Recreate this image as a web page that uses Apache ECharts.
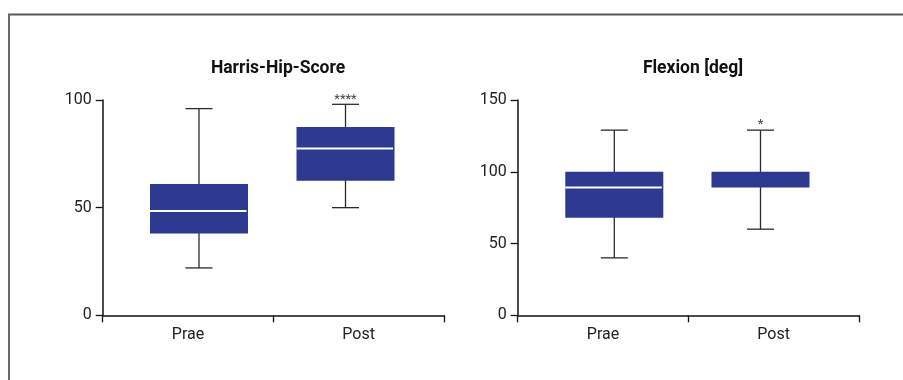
<!DOCTYPE html>
<html>
<head>
<meta charset="utf-8">
<script src="https://cdn.jsdelivr.net/npm/echarts@6/dist/echarts.min.js"></script>
<style>
html,body{margin:0;padding:0;background:#fff;}
#chart{width:903px;height:380px;}
</style>
</head>
<body>
<div id="chart"></div>
<script>
// ---- data ----
const categories = ['Prae', 'Post'];
// [min, q1, median, q3, max]
const hhsPrae = [22, 38, 48.5, 61, 96];
const hhsPost = [50, 62.5, 77.5, 87.5, 98];
const flexPrae = [40, 68, 89, 100, 129];
const flexPost = [60, 89, 100, 100, 129];
const hhsSig = ['', '****'];
const flexSig = ['', '*'];
const hhsTicks = [0, 50, 100];
const flexTicks = [0, 50, 100, 150];
const titles = ['Harris-Hip-Score', 'Flexion [deg]'];

const FONT = 'Roboto, "Noto Sans", sans-serif';
const BOX_COLOR = '#2d3890';
const LINE_COLOR = '#2b2b2b';

function toRows(a, b) {
  return [a, b].map((v, i) => [i].concat(v));
}

function makeRender(sig) {
  return function (params, api) {
    const i = api.value(0);
    const pMin = api.coord([i, api.value(1)]);
    const pQ1 = api.coord([i, api.value(2)]);
    const pMed = api.coord([i, api.value(3)]);
    const pQ3 = api.coord([i, api.value(4)]);
    const pMax = api.coord([i, api.value(5)]);
    const cx = pMin[0];
    const bw = 98, cw = 27;
    const children = [];
    const ls = { stroke: LINE_COLOR, lineWidth: 1.3 };
    children.push({ type: 'line', shape: { x1: cx, y1: pMax[1], x2: cx, y2: pMin[1] }, style: ls });
    children.push({ type: 'line', shape: { x1: cx - cw / 2, y1: pMax[1], x2: cx + cw / 2, y2: pMax[1] }, style: ls });
    children.push({ type: 'line', shape: { x1: cx - cw / 2, y1: pMin[1], x2: cx + cw / 2, y2: pMin[1] }, style: ls });
    children.push({ type: 'rect', shape: { x: cx - bw / 2, y: pQ3[1], width: bw, height: pQ1[1] - pQ3[1] }, style: { fill: BOX_COLOR } });
    if (api.value(3) !== api.value(2) && api.value(3) !== api.value(4)) {
      children.push({ type: 'line', shape: { x1: cx - bw / 2, y1: pMed[1], x2: cx + bw / 2 - 1.5, y2: pMed[1] }, style: { stroke: '#ffffff', lineWidth: 2 } });
    }
    const s = sig[params.dataIndex];
    if (s) {
      children.push({ type: 'text', style: { text: s, x: cx, y: pMax[1] - 5, align: 'center', verticalAlign: 'middle', fill: '#444', font: '13px ' + FONT } });
    }
    return { type: 'group', children: children };
  };
}

function visAxisX(gi) {
  return {
    type: 'category', gridIndex: gi, data: categories, boundaryGap: true,
    axisLine: { lineStyle: { color: '#111', width: 1.5 } },
    axisTick: { show: true, length: 7, lineStyle: { color: '#111', width: 1.3 } },
    axisLabel: { color: '#222', fontFamily: FONT, fontSize: 16, margin: 12 },
    splitLine: { show: false }
  };
}
function hidAxisX(gi) {
  return { type: 'category', gridIndex: gi, data: categories, show: false, boundaryGap: true };
}
function visAxisY(gi, max) {
  return {
    type: 'value', gridIndex: gi, min: 0, max: max, interval: 50,
    axisLine: { show: true, lineStyle: { color: '#111', width: 1.5 } },
    axisTick: { show: true, length: 7, lineStyle: { color: '#111', width: 1.3 } },
    axisLabel: { color: '#222', fontFamily: FONT, fontSize: 16, margin: 11 },
    splitLine: { show: false }
  };
}
function hidAxisY(gi, max) {
  return { type: 'value', gridIndex: gi, min: 0, max: max, show: false, splitLine: { show: false } };
}

const gridTop = 100, gridHeight = 215.3;
const option = {
  animation: false,
  backgroundColor: '#fff',
  title: [
    { text: titles[0], left: 273, top: 55, textAlign: 'center', textStyle: { fontFamily: FONT, fontSize: 17.5, fontWeight: 'bold', color: '#111' } },
    { text: titles[1], left: 688, top: 55, textAlign: 'center', textStyle: { fontFamily: FONT, fontSize: 17.5, fontWeight: 'bold', color: '#111' } }
  ],
  grid: [
    { left: 102.7, top: gridTop, width: 341.3, height: gridHeight },
    { left: 125.75, top: gridTop, width: 293, height: gridHeight },
    { left: 517.7, top: gridTop, width: 341.3, height: gridHeight },
    { left: 541.2, top: gridTop, width: 292.4, height: gridHeight }
  ],
  xAxis: [visAxisX(0), hidAxisX(1), visAxisX(2), hidAxisX(3)],
  yAxis: [visAxisY(0, hhsTicks[hhsTicks.length - 1]), hidAxisY(1, 100), visAxisY(2, flexTicks[flexTicks.length - 1]), hidAxisY(3, 150)],
  graphic: [
    { type: 'line', shape: { x1: 8, y1: 14.5, x2: 903, y2: 14.5 }, style: { stroke: '#5a5a5a', lineWidth: 2 } },
    { type: 'line', shape: { x1: 9, y1: 14, x2: 9, y2: 380 }, style: { stroke: '#6a6a6a', lineWidth: 2 } }
  ],
  series: [
    { type: 'custom', xAxisIndex: 1, yAxisIndex: 1, data: toRows(hhsPrae, hhsPost), encode: { x: 0, y: [1, 2, 3, 4, 5] }, renderItem: makeRender(hhsSig) },
    { type: 'custom', xAxisIndex: 3, yAxisIndex: 3, data: toRows(flexPrae, flexPost), encode: { x: 0, y: [1, 2, 3, 4, 5] }, renderItem: makeRender(flexSig) }
  ]
};
const chart = echarts.init(document.getElementById('chart'), null, { renderer: 'canvas' });
chart.setOption(option);
</script>
</body>
</html>
